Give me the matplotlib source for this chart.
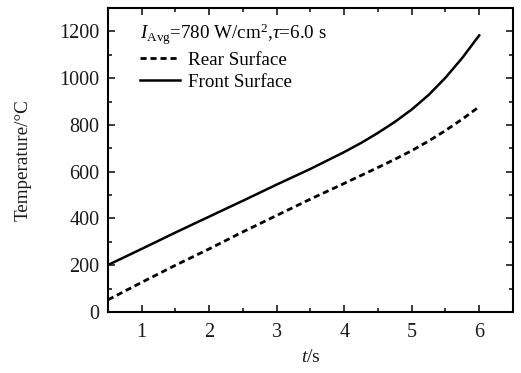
import matplotlib
matplotlib.use("Agg")
import matplotlib.pyplot as plt
from matplotlib.ticker import MultipleLocator

plt.rcParams["font.family"] = ["Liberation Serif", "DejaVu Serif"]
plt.rcParams["mathtext.fontset"] = "custom"
plt.rcParams["mathtext.rm"] = "Liberation Serif"
plt.rcParams["mathtext.it"] = "Liberation Serif:italic"

# time (s) and surface temperatures (°C)
t = [0.5, 1, 1.5, 2, 2.5, 3, 3.5, 4, 4.25, 4.5, 4.75, 5, 5.25, 5.5, 5.75, 6]
front = [201, 270, 340, 408, 476, 545, 612, 684, 723, 766, 813, 866, 928, 1002, 1087, 1183]
rear = [52, 127, 200, 270, 343, 413, 483, 550, 584, 618, 653, 690, 731, 776, 825, 878]

fig = plt.figure(figsize=(5.21, 3.73), dpi=100)
ax = fig.add_axes([0.2073, 0.1635, 0.7773, 0.8151])

ax.plot(t, rear, color="black", lw=2.0, ls=(0, (2.2, 1.4)), label="Rear Surface")
ax.plot(t, front, color="black", lw=1.8, label="Front Surface")

ax.set_xlim(0.5, 6.5)
ax.set_ylim(0, 1300)
ax.xaxis.set_major_locator(MultipleLocator(1))
ax.xaxis.set_minor_locator(MultipleLocator(0.5))
ax.yaxis.set_major_locator(MultipleLocator(200))
ax.yaxis.set_minor_locator(MultipleLocator(100))
ax.tick_params(which="both", direction="in", top=True, right=True, width=1.2,
               labelsize=14.5, colors="#1a1a1a")
ax.tick_params(which="major", length=5)
ax.tick_params(which="minor", length=3)
ax.tick_params(axis="x", pad=8)
ax.tick_params(axis="y", pad=6)
for s in ax.spines.values():
    s.set_linewidth(1.5)

ax.set_xlabel("$t$/s", fontsize=14, labelpad=5, color="#1a1a1a")
ax.set_ylabel("Temperature/°C", fontsize=13.8, labelpad=20, color="#1a1a1a")

leg = ax.legend(title=r"$I_{\rm Avg}$=780 W/cm$^2$,$\tau$=6.0 s", loc="upper left",
                frameon=False, fontsize=13.7, title_fontsize=13.7,
                handlelength=2.1, handletextpad=0.45, labelspacing=0.25,
                borderaxespad=0.3, bbox_to_anchor=(0.045, 1.0))
leg._legend_box.align = "left"

fig.savefig("out.png", dpi=100)
